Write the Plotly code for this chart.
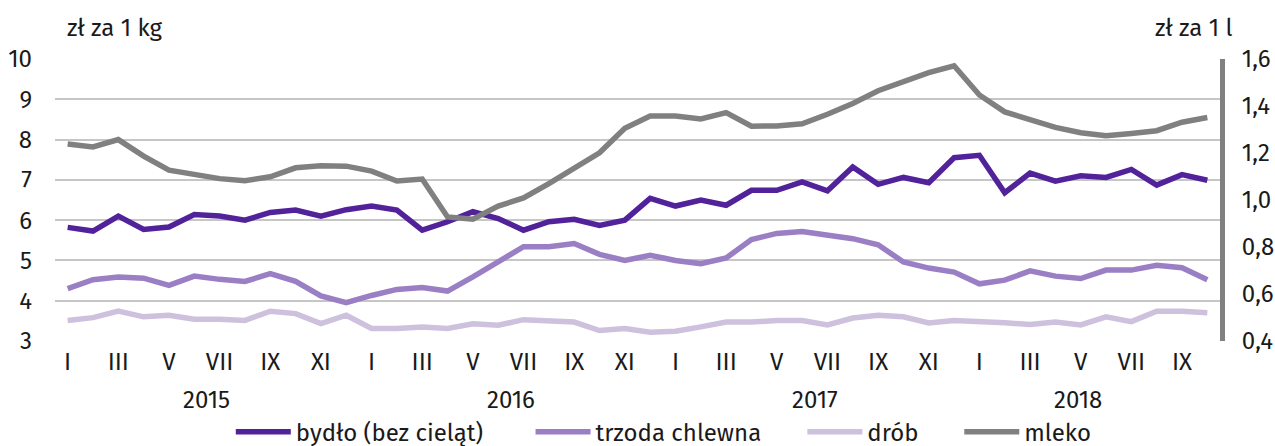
import plotly.graph_objects as go

months = [f"{y}-{m:02d}" for y in (2015, 2016, 2017, 2018) for m in range(1, 13)][:46]
roman = ["I", "II", "III", "IV", "V", "VI", "VII", "VIII", "IX", "X", "XI", "XII"]

bydlo = [5.82, 5.73, 6.10, 5.77, 5.83, 6.14, 6.10, 6.00, 6.19, 6.25, 6.10, 6.26,
         6.35, 6.25, 5.75, 5.96, 6.21, 6.04, 5.75, 5.96, 6.02, 5.87, 6.00, 6.54,
         6.35, 6.50, 6.37, 6.74, 6.74, 6.95, 6.73, 7.32, 6.89, 7.06, 6.93, 7.55,
         7.61, 6.68, 7.17, 6.97, 7.10, 7.06, 7.26, 6.87, 7.13, 6.99]
trzoda = [4.30, 4.52, 4.59, 4.56, 4.38, 4.61, 4.53, 4.48, 4.67, 4.48, 4.12, 3.95,
          4.13, 4.28, 4.33, 4.24, 4.59, 4.96, 5.34, 5.34, 5.42, 5.15, 5.00, 5.13,
          5.00, 4.92, 5.06, 5.52, 5.67, 5.72, 5.62, 5.54, 5.39, 4.96, 4.81, 4.71,
          4.42, 4.51, 4.74, 4.61, 4.55, 4.76, 4.76, 4.88, 4.82, 4.52]
drob = [3.51, 3.58, 3.74, 3.60, 3.64, 3.54, 3.54, 3.51, 3.74, 3.68, 3.43, 3.64,
        3.31, 3.31, 3.35, 3.31, 3.43, 3.39, 3.53, 3.51, 3.47, 3.26, 3.31, 3.22,
        3.24, 3.35, 3.47, 3.47, 3.51, 3.51, 3.40, 3.57, 3.64, 3.60, 3.45, 3.51,
        3.49, 3.45, 3.41, 3.47, 3.40, 3.60, 3.48, 3.74, 3.74, 3.70]
mleko = [1.238, 1.226, 1.257, 1.187, 1.127, 1.110, 1.091, 1.082, 1.099, 1.137, 1.146, 1.144,
         1.123, 1.081, 1.089, 0.928, 0.918, 0.974, 1.009, 1.070, 1.134, 1.201, 1.305, 1.357,
         1.357, 1.345, 1.372, 1.314, 1.315, 1.324, 1.365, 1.411, 1.465, 1.504, 1.542, 1.571,
         1.447, 1.375, 1.339, 1.309, 1.286, 1.273, 1.283, 1.295, 1.331, 1.351]

years = ["2015", "2016", "2017", "2018"]
year_pos = [5.5, 17.5, 29.5, 39.9]

left_ticks = [3, 4, 5, 6, 7, 8, 9, 10]
right_ticks = [0.4, 0.6, 0.8, 1.0, 1.2, 1.4, 1.6]

FONT = "Fira Sans"
FS = 24
TXT = "#1a1a1a"
x = list(range(len(months)))
tickvals = x[::2]
ticktext = [roman[int(m[5:]) - 1] for m in months[::2]]

series = [
    ("bydło (bez cieląt)", bydlo, "#52229a", "y"),
    ("trzoda chlewna", trzoda, "#9a7fc4", "y"),
    ("drób", drob, "#cdc1de", "y"),
    ("mleko", mleko, "#808080", "y2"),
]
legend_ids = ["legend", "legend2", "legend3", "legend4"]
legend_x = [0.1509, 0.4082, 0.6415, 0.7762]

fig = go.Figure()
for (name, vals, col, ax), lid in zip(series, legend_ids):
    fig.add_trace(go.Scatter(x=x, y=vals, name=name, mode="lines", yaxis=ax, legend=lid,
                             line=dict(color=col, width=5.5), hoverinfo="skip"))

ann = [dict(x=p, y=0, xref="x", yref="paper", yanchor="middle", yshift=-59, text=t,
            showarrow=False, font=dict(family=FONT, size=FS, color=TXT))
       for p, t in zip(year_pos, years)]
ann.append(dict(x=0, y=1, xref="paper", yref="paper", xanchor="left", yanchor="middle",
                xshift=10, yshift=31, text="zł za 1 kg", showarrow=False,
                font=dict(family=FONT, size=FS, color=TXT)))
ann.append(dict(x=1, y=1, xref="paper", yref="paper", xanchor="right", yanchor="middle",
                xshift=14, yshift=31, text="zł za 1 l", showarrow=False,
                font=dict(family=FONT, size=FS, color=TXT)))

legend_common = dict(orientation="h", xanchor="left", y=-0.243, yanchor="top",
                     font=dict(family=FONT, size=FS, color=TXT), itemwidth=55,
                     bgcolor="rgba(0,0,0,0)")
legends = {lid: dict(legend_common, x=lx) for lid, lx in zip(legend_ids, legend_x)}

fig.update_layout(
    width=1275, height=446,
    margin=dict(l=55, r=55, t=59, b=105, autoexpand=False),
    paper_bgcolor="white", plot_bgcolor="white",
    separators=", ",
    font=dict(family=FONT, size=FS, color=TXT),
    showlegend=True,
    xaxis=dict(range=[-0.5, len(x) - 0.5], tickvals=tickvals, ticktext=ticktext,
               showgrid=False, zeroline=False, showline=False, ticks="",
               ticklabelstandoff=4, tickfont=dict(family=FONT, size=FS, color=TXT)),
    yaxis=dict(range=[3, 10], tickvals=left_ticks, showgrid=True, gridcolor="#c6c6c6",
               gridwidth=1.5, zeroline=False, showline=False, ticks="",
               ticklabelstandoff=22, tickfont=dict(family=FONT, size=FS, color=TXT)),
    yaxis2=dict(range=[0.4, 1.6], tickvals=right_ticks, tickformat=".1f", overlaying="y",
                side="right", showgrid=False, zeroline=False, showline=True,
                linecolor="#808080", linewidth=5, ticks="", ticklabelstandoff=12,
                tickfont=dict(family=FONT, size=FS, color=TXT)),
    annotations=ann,
    **legends,
)

fig.write_html("out.html",
               config={"displayModeBar": False},
               post_script="document.body.style.margin='0';document.body.style.overflow='hidden';")
